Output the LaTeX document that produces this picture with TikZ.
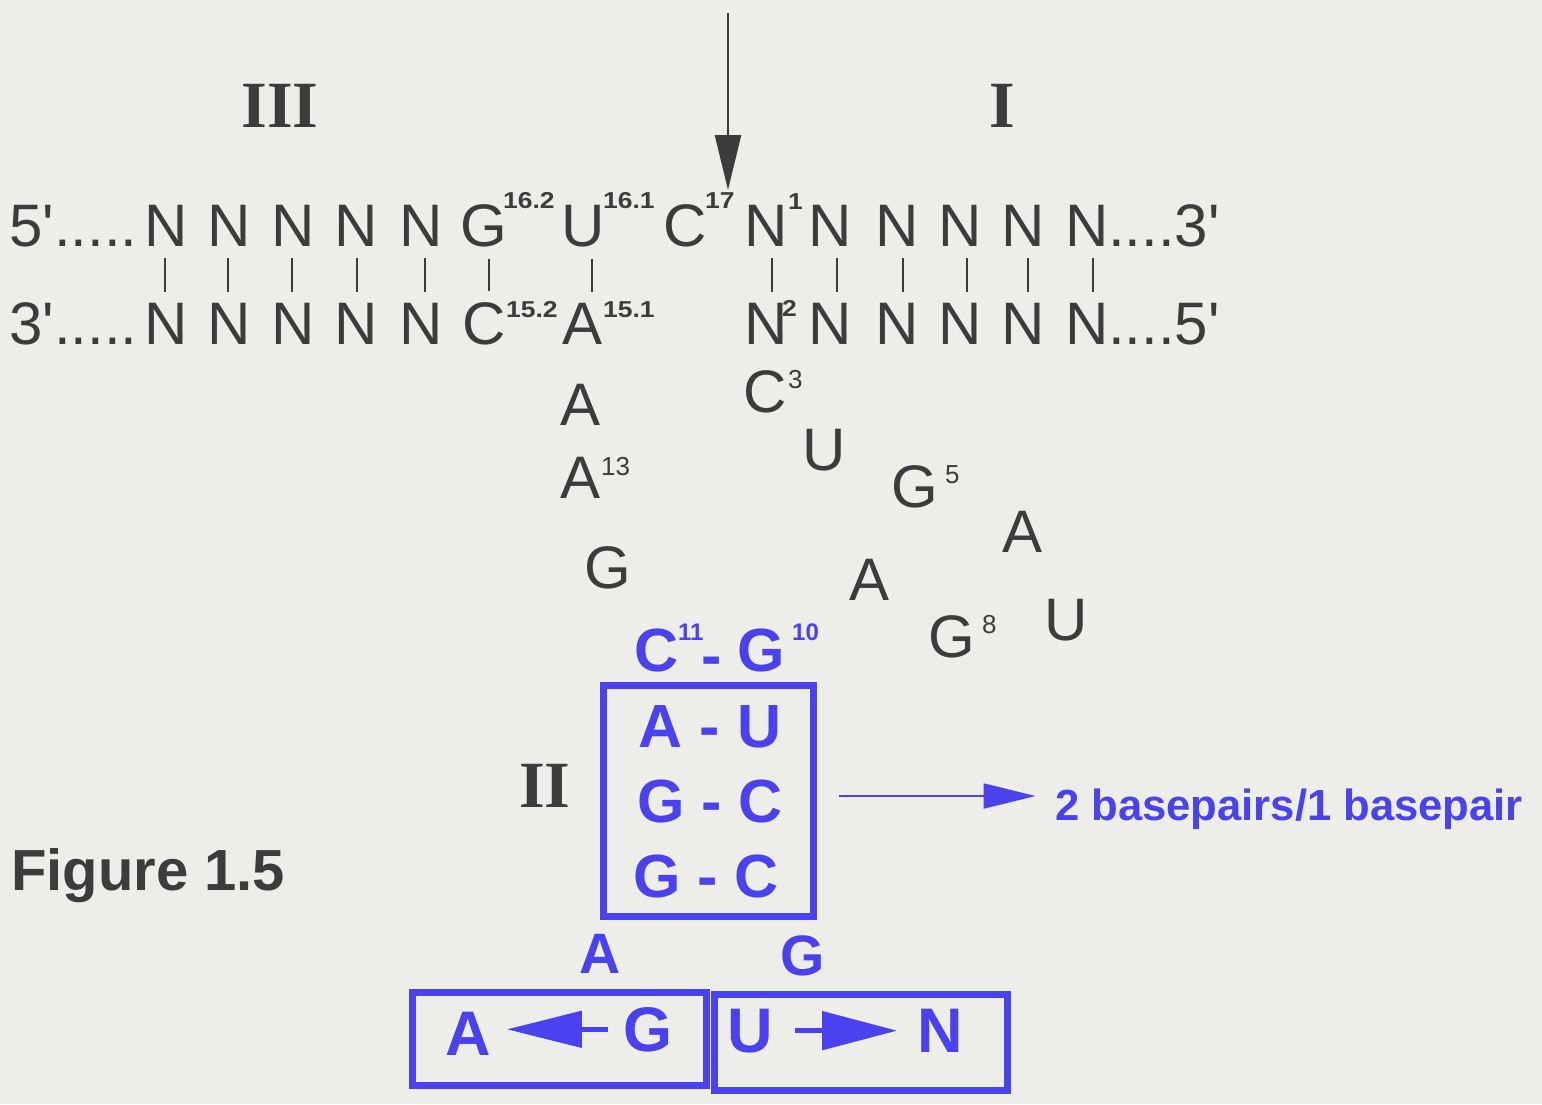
\documentclass[tikz,border=0pt]{standalone}
\usepackage{fontspec}
\setmainfont{Liberation Sans}
\newfontfamily\romfont{Liberation Serif}
\newfontfamily\supfont[FakeStretch=1.15]{Liberation Sans}
\usetikzlibrary{arrows.meta}
\definecolor{ink}{RGB}{60,60,60}
\definecolor{bgc}{RGB}{237,237,233}
\definecolor{blu}{RGB}{74,66,238}
\begin{document}
\begin{tikzpicture}[x=1pt,y=-1pt,
  nt/.style={inner sep=0pt, anchor=base, text=ink, font=\fontsize{60}{60}\selectfont},
  sup/.style={inner sep=0pt, anchor=base west, text=ink, font=\supfont\bfseries\fontsize{23}{23}\selectfont},
  lsup/.style={inner sep=0pt, anchor=base west, text=ink, font=\fontsize{26}{26}\selectfont},
  roman/.style={inner sep=0pt, anchor=base, text=ink, font=\romfont\bfseries\fontsize{66}{66}\selectfont},
  bl/.style={inner sep=0pt, anchor=base, text=blu, font=\bfseries\fontsize{61}{61}\selectfont},
  blbig/.style={inner sep=0pt, anchor=base, text=blu, font=\bfseries\fontsize{63}{63}\selectfont},
  blsup/.style={inner sep=0pt, anchor=base west, text=blu, font=\bfseries\fontsize{24}{24}\selectfont},
  bar/.style={draw=ink, line width=2.8pt, shorten <=12pt, shorten >=11pt},
  bbox/.style={draw=blu, line width=7pt, inner sep=0pt}
]
\fill[bgc] (0,0) rectangle (1542,1104);
\useasboundingbox (0,0) rectangle (1542,1104);

% cleavage arrow
\coordinate (cutA) at (728,13);
\coordinate (cutB) at (728,190);
\draw[ink, line width=2.6pt, -{Triangle[length=55pt,width=26pt]}] (cutA) -- (cutB);

% roman numerals
\node[roman] (rIII) at (280,127) {III};
\node[roman] (rI) at (1002,127) {I};
\node[roman] (rII) at (545,807) {II};

% top strand
\node[nt, anchor=base west] (p5) at (9,246) {5\textquotesingle.....};
\node[nt] (t1) at (166,246) {N};
\node[nt] (t2) at (229,246) {N};
\node[nt] (t3) at (293,246) {N};
\node[nt] (t4) at (356,246) {N};
\node[nt] (t5) at (421,246) {N};
\node[nt] (t6) at (484,246) {G};
\node[sup] (s162) at (503,208) {16.2};
\node[nt] (t7) at (583,246) {U};
\node[sup] (s161) at (603,208) {16.1};
\node[nt] (t8) at (685,246) {C};
\node[sup] (s17) at (705,208) {17};
\node[nt] (t9) at (766,246) {N};
\node[sup] (s1) at (788,209) {1};
\node[nt] (t10) at (830,246) {N};
\node[nt] (t11) at (897,246) {N};
\node[nt] (t12) at (960,246) {N};
\node[nt] (t13) at (1023,246) {N};
\node[nt] (t14) at (1087,246) {N};
\node[nt, anchor=base west] (p3) at (1108,246) {....3\textquotesingle};

% bottom strand
\node[nt, anchor=base west] (q3) at (9,344) {3\textquotesingle.....};
\node[nt] (b1) at (166,344) {N};
\node[nt] (b2) at (229,344) {N};
\node[nt] (b3) at (293,344) {N};
\node[nt] (b4) at (356,344) {N};
\node[nt] (b5) at (421,344) {N};
\node[nt] (b6) at (484,344) {C};
\node[sup] (s152) at (506,317) {15.2};
\node[nt] (b7) at (583,344) {A};
\node[sup] (s151) at (603,317) {15.1};
\node[nt] (b9) at (766,344) {N};
\node[sup] (s2) at (782,316) {2};
\node[nt] (b10) at (830,344) {N};
\node[nt] (b11) at (897,344) {N};
\node[nt] (b12) at (960,344) {N};
\node[nt] (b13) at (1023,344) {N};
\node[nt] (b14) at (1087,344) {N};
\node[nt, anchor=base west] (q5) at (1108,344) {....5\textquotesingle};

% base-pair bars
\draw[bar] ([xshift=-1pt]t1.south) -- ([xshift=-1pt]b1.north);
\draw[bar] ([xshift=-1pt]t2.south) -- ([xshift=-1pt]b2.north);
\draw[bar] ([xshift=-1pt]t3.south) -- ([xshift=-1pt]b3.north);
\draw[bar] ([xshift=1pt]t4.south) -- ([xshift=1pt]b4.north);
\draw[bar] ([xshift=4pt]t5.south) -- ([xshift=4pt]b5.north);
\draw[bar] ([xshift=5pt]t6.south) -- ([xshift=5pt]b6.north);
\draw[bar] ([xshift=9pt]t7.south) -- ([xshift=9pt]b7.north);
\draw[bar] ([xshift=6pt]t9.south) -- ([xshift=6pt]b9.north);
\draw[bar] ([xshift=7pt]t10.south) -- ([xshift=7pt]b10.north);
\draw[bar] ([xshift=6pt]t11.south) -- ([xshift=6pt]b11.north);
\draw[bar] ([xshift=7pt]t12.south) -- ([xshift=7pt]b12.north);
\draw[bar] ([xshift=5pt]t13.south) -- ([xshift=5pt]b13.north);
\draw[bar] ([xshift=6pt]t14.south) -- ([xshift=6pt]b14.north);

% loop
\node[nt] (l14) at (581,425) {A};
\node[nt] (l13) at (581,498) {A};
\node[lsup] (s13) at (601,475) {13};
\node[nt] (l12) at (608,588) {G};
\node[nt] (l3) at (765,412) {C};
\node[lsup] (s3) at (788,388) {3};
\node[nt] (l4) at (824,470) {U};
\node[nt] (l5) at (915,507) {G};
\node[lsup] (s5) at (945,483) {5};
\node[nt] (l6) at (1022,552) {A};
\node[nt] (l7) at (869,600) {A};
\node[nt] (l8) at (952,657) {G};
\node[lsup] (s8) at (982,633) {8};
\node[nt] (l9) at (1066,640) {U};

% stem II
\node[bl] (c11) at (657,671) {C};
\node[blsup] (s11) at (678,640) {11};
\node[bl, inner xsep=-3pt] (hy) at (712,676) {-};
\node[bl] (g10) at (761,671) {G};
\node[blsup] (s10) at (792,640) {10};
\node[bbox, minimum width=210pt, minimum height=231pt] (boxII) at (708,800.5) {};
\node[bl] (r1) at (710,747) {A - U};
\node[bl] (r2) at (710,822) {G - C};
\node[bl] (r3) at (706,897) {G - C};

\draw[blu, line width=2.2pt, -{Triangle[length=52pt,width=25pt]}] ([xshift=22pt,yshift=4.5pt]boxII.east) -- ++(197,0) coordinate (bpa);
\node[inner sep=0pt, anchor=base west, text=blu, font=\bfseries\fontsize{43.6}{43.6}\selectfont] (bp) at (1055,820) {2 basepairs/1 basepair};

% bottom
\node[bl, font=\bfseries\fontsize{57}{57}\selectfont] (aL) at (600,973) {A};
\node[bl, font=\bfseries\fontsize{57}{57}\selectfont] (gL) at (803,975) {G};
\node[bbox, minimum width=294pt, minimum height=93pt] (lbox) at (559,1038.5) {};
\node[bbox, minimum width=293pt, minimum height=96pt] (rbox) at (860.5,1042) {};
\node[blbig] (ia) at (468,1055) {A};
\node[blbig] (ig) at (648,1051) {G};
\node[blbig] (iu) at (750,1052) {U};
\node[blbig] (in) at (940,1052) {N};
\draw[blu, line width=5pt, shorten <=15pt, shorten >=16pt, -{Triangle[length=75pt,width=36pt]}] (ig.west) -- (ia.east |- ig.west);
\draw[blu, line width=5pt, shorten <=22pt, shorten >=20pt, -{Triangle[length=75pt,width=38pt]}] (iu.east) -- (in.west |- iu.east);

% caption
\node[inner sep=0pt, anchor=base west, text=ink, font=\bfseries\fontsize{58}{58}\selectfont] (fig) at (11,890) {Figure 1.5};
\end{tikzpicture}
\end{document}
